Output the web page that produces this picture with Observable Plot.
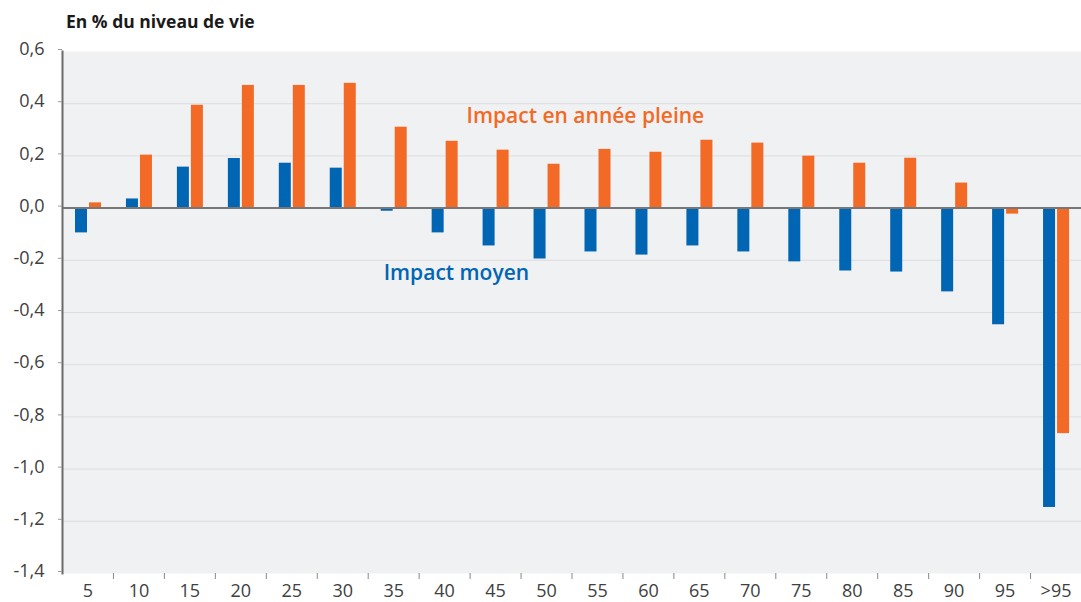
<!DOCTYPE html>
<html><head><meta charset="utf-8">
<script src="https://cdn.jsdelivr.net/npm/d3@7"></script>
<script src="https://cdn.jsdelivr.net/npm/@observablehq/plot@0.6"></script>
<style>
body{margin:0;background:#fff;font-family:"Open Sans",sans-serif;}
#title{height:36px;box-sizing:border-box;padding:10px 0 0 66px;font-weight:bold;font-size:17.5px;color:#1a1a1a;line-height:22px;}
#chart svg{display:block;}
</style></head><body>
<div id="title">En % du niveau de vie</div>
<div id="chart"></div>
<script>
const categories = ["5","10","15","20","25","30","35","40","45","50","55","60","65","70","75","80","85","90","95",">95"];
const impactMoyen = [-0.095,0.035,0.157,0.19,0.172,0.153,-0.012,-0.095,-0.145,-0.195,-0.168,-0.18,-0.145,-0.168,-0.206,-0.241,-0.245,-0.321,-0.447,-1.147];
const impactAnneePleine = [0.02,0.203,0.394,0.47,0.47,0.478,0.31,0.256,0.222,0.168,0.225,0.214,0.26,0.249,0.199,0.172,0.191,0.096,-0.023,-0.864];
const yTicks = [-1.4,-1.2,-1.0,-0.8,-0.6,-0.4,-0.2,0.0,0.2,0.4,0.6];
const gridTicks = [-1.2,-1.0,-0.8,-0.6,-0.4,-0.2,0.2,0.4];
const seriesLabels = ["Impact moyen", "Impact en année pleine"];
const labelAnchors = [{cat: "35", value: -0.25}, {cat: "45", value: 0.35}];

const blue = "#0065b3", orange = "#f26a25";
const data = categories.map((c, i) => ({cat: c, moyen: impactMoyen[i], pleine: impactAnneePleine[i]}));

const W = 1081, H = 566, mL = 62, mR = 0;
const band = (W - mL - mR) / categories.length;
const fmt = v => v.toFixed(1).replace(".", ",");

const chart = Plot.plot({
  width: W, height: H,
  marginLeft: mL, marginRight: mR, marginTop: 15, marginBottom: 29,
  style: {fontFamily: "'Open Sans', sans-serif", fontSize: "18px", color: "#404040", background: "#fff"},
  x: {domain: categories, padding: 0, round: false, axis: null},
  y: {domain: [-1.4, 0.6], axis: null},
  marks: [
    Plot.frame({fill: "#f0f1f3", stroke: null}),
    Plot.ruleY(gridTicks, {stroke: "#dcdde0", strokeWidth: 1}),
    Plot.barY(data, {x: "cat", y: "moyen", fill: blue, insetLeft: 13, insetRight: band - 25}),
    Plot.barY(data, {x: "cat", y: "pleine", fill: orange, insetLeft: 27, insetRight: band - 39}),
    Plot.ruleY([0], {stroke: "#777", strokeWidth: 2}),
    Plot.frame({anchor: "left", stroke: "#6b6b6b", strokeWidth: 2}),
    Plot.axisY(yTicks, {tickSize: 4, tickPadding: 14, tickFormat: fmt, stroke: "#999", dy: -2, label: null}),
    Plot.axisX(categories, {tickSize: 0, tickPadding: 11, label: null}),
    Plot.axisX(categories.slice(1), {tickSize: 6, tickPadding: 0, tickFormat: () => "", dx: -band / 2, stroke: "#888", label: null}),
    Plot.text([labelAnchors[0]], {x: "cat", y: "value", text: [seriesLabels[0]], fill: blue, dx: -10, textAnchor: "start", fontSize: 21, fontWeight: 600}),
    Plot.text([labelAnchors[1]], {x: "cat", y: "value", text: [seriesLabels[1]], fill: orange, dx: -29, textAnchor: "start", fontSize: 21, fontWeight: 600}),
  ]
});
document.getElementById("chart").appendChild(chart);
</script>
</body></html>
